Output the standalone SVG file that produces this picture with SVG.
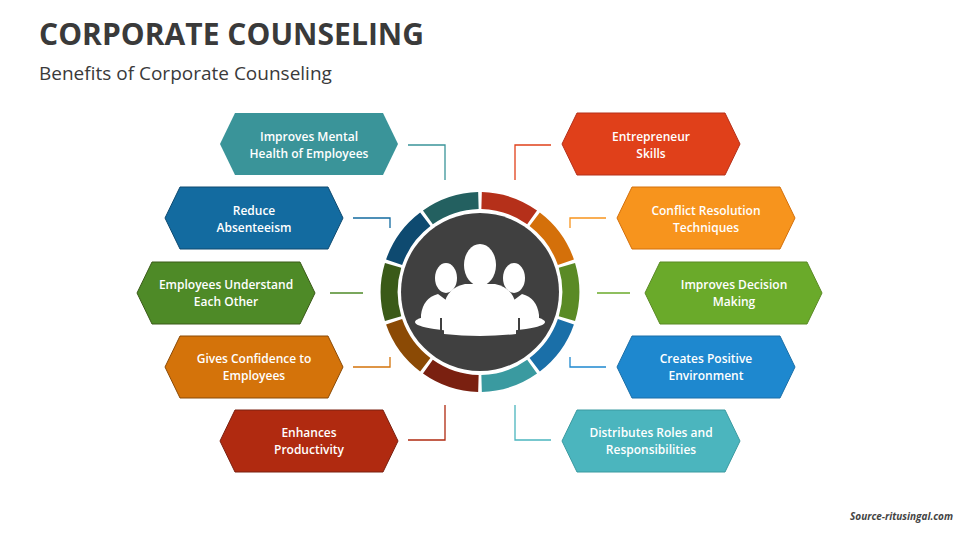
<svg xmlns="http://www.w3.org/2000/svg" width="960" height="540" viewBox="0 0 960 540">
<style>
.t{font-family:"Open Sans","Liberation Sans",sans-serif;font-weight:600;font-size:12px;fill:#fff;text-anchor:middle}
.c{fill:none;stroke-width:1.3}
</style>
<rect width="960" height="540" fill="#fff"/>
<text x="39" y="45" font-family="Open Sans,Liberation Sans,sans-serif" font-weight="700" font-size="30" fill="#3a3a3a" textLength="385">CORPORATE COUNSELING</text>
<text x="39" y="80" font-family="Open Sans,Liberation Sans,sans-serif" font-size="19" fill="#3a3a3a">Benefits of Corporate Counseling</text>
<text x="953" y="520" font-family="Open Sans,Liberation Sans,sans-serif" font-weight="700" font-style="italic" font-size="10" fill="#444" text-anchor="end">Source-ritusingal.com</text>
<g id="connectors">
<polyline class="c" stroke="#3A9499" points="408,145 445,145 445,180"/>
<polyline class="c" stroke="#136BA0" points="353,218 390,218 390,228"/>
<polyline class="c" stroke="#4E8A27" points="330,293 363,293"/>
<polyline class="c" stroke="#D4730A" points="353,367 390,367 390,357"/>
<polyline class="c" stroke="#B02A10" points="408,440 445,440 445,405"/>
<polyline class="c" stroke="#E0401A" points="551,145 515,145 515,180"/>
<polyline class="c" stroke="#F7941D" points="606,218 570,218 570,228"/>
<polyline class="c" stroke="#6AAA2A" points="630,293 597,293"/>
<polyline class="c" stroke="#1E88CF" points="606,367 570,367 570,357"/>
<polyline class="c" stroke="#4BB5BE" points="551,440 515,440 515,405"/>
</g>
<g id="ring" fill="none" stroke-width="17">
<path stroke="#B5301A" d="M481.6,200.5 A91.5,91.5 0 0 1 532.1,217.4"/>
<path stroke="#D4700A" d="M534.7,219.3 A91.5,91.5 0 0 1 565.9,262.3"/>
<path stroke="#5A8A25" d="M566.9,265.4 A91.5,91.5 0 0 1 566.9,318.6"/>
<path stroke="#1A6FA8" d="M565.9,321.7 A91.5,91.5 0 0 1 534.7,364.7"/>
<path stroke="#3A9AA0" d="M532.1,366.6 A91.5,91.5 0 0 1 481.6,383.5"/>
<path stroke="#7A2010" d="M478.4,383.5 A91.5,91.5 0 0 1 427.9,366.6"/>
<path stroke="#8B4A05" d="M425.3,364.7 A91.5,91.5 0 0 1 394.1,321.7"/>
<path stroke="#3A5A18" d="M393.1,318.6 A91.5,91.5 0 0 1 393.1,265.4"/>
<path stroke="#0E4A70" d="M394.1,262.3 A91.5,91.5 0 0 1 425.3,219.3"/>
<path stroke="#236060" d="M427.9,217.4 A91.5,91.5 0 0 1 478.4,200.5"/>
</g>
<g id="center">
<circle cx="480" cy="292" r="79" fill="#404040"/>
<g fill="#fff">
<ellipse cx="446" cy="278" rx="11" ry="15"/>
<path d="M421,315 Q423,298 438,294 L446,300 L454,294 Q466,297 470,305 L470,320 L421,320 Z"/>
<ellipse cx="514" cy="278" rx="11" ry="15"/>
<path d="M539,315 Q537,298 522,294 L514,300 L506,294 Q494,297 490,305 L490,320 L539,320 Z"/>
<ellipse cx="480" cy="322" rx="65" ry="10"/>
</g>
<g fill="#404040"><rect x="440" y="318" width="2" height="20"/><rect x="518" y="318" width="2" height="20"/></g>
<g fill="#fff">
<ellipse cx="480" cy="265" rx="16" ry="21"/>
<path d="M444,334 L444,305 Q447,288 465,284 L495,284 Q513,288 516,305 L516,334 Q480,338 444,334 Z"/>
</g>
</g>
<g id="n1"><polygon points="235,113 383,113 398,144 383,175 235,175 220,144" fill="#3A9499"/><text class="t" x="309" y="141">Improves Mental</text><text class="t" x="309" y="158">Health of Employees</text></g>
<g id="n2"><polygon points="180,187 328,187 343,218 328,249 180,249 165,218" fill="#136BA0" stroke="#0E4A70"/><text class="t" x="254" y="215">Reduce</text><text class="t" x="254" y="232">Absenteeism</text></g>
<g id="n3"><polygon points="152,262 300,262 315,293 300,324 152,324 137,293" fill="#4E8A27" stroke="#3A5A18"/><text class="t" x="226" y="289">Employees Understand</text><text class="t" x="226" y="306">Each Other</text></g>
<g id="n4"><polygon points="180,336 328,336 343,367 328,398 180,398 165,367" fill="#D4730A" stroke="#8B4A05"/><text class="t" x="254" y="363">Gives Confidence to</text><text class="t" x="254" y="380">Employees</text></g>
<g id="n5"><polygon points="235,410 383,410 398,441 383,472 235,472 220,441" fill="#B02A10" stroke="#7A2010"/><text class="t" x="309" y="437">Enhances</text><text class="t" x="309" y="454">Productivity</text></g>
<g id="n6"><polygon points="577,113 725,113 740,144 725,175 577,175 562,144" fill="#E0401A" stroke="#B5301A"/><text class="t" x="651" y="141">Entrepreneur</text><text class="t" x="651" y="158">Skills</text></g>
<g id="n7"><polygon points="632,187 780,187 795,218 780,249 632,249 617,218" fill="#F7941D" stroke="#D4700A"/><text class="t" x="706" y="215">Conflict Resolution</text><text class="t" x="706" y="232">Techniques</text></g>
<g id="n8"><polygon points="660,262 807,262 822,293 807,324 660,324 645,293" fill="#6AAA2A" stroke="#5A8A25"/><text class="t" x="734" y="289">Improves Decision</text><text class="t" x="734" y="306">Making</text></g>
<g id="n9"><polygon points="632,336 780,336 795,367 780,398 632,398 617,367" fill="#1E88CF" stroke="#1A6FA8"/><text class="t" x="706" y="363">Creates Positive</text><text class="t" x="706" y="380">Environment</text></g>
<g id="n10"><polygon points="577,410 725,410 740,441 725,472 577,472 562,441" fill="#4BB5BE" stroke="#3A9AA0"/><text class="t" x="651" y="437">Distributes Roles and</text><text class="t" x="651" y="454">Responsibilities</text></g>
</svg>
